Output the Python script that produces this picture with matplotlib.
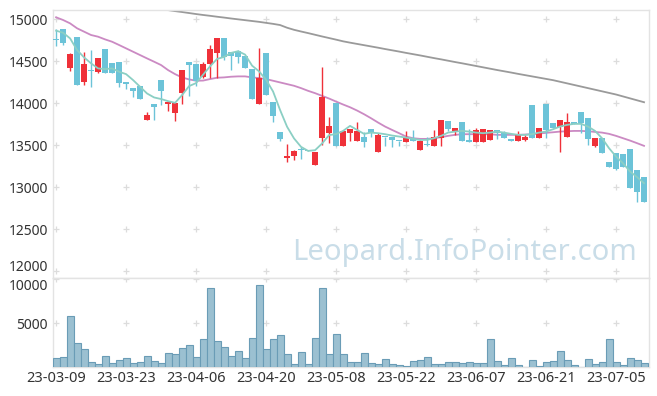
import matplotlib
matplotlib.use("Agg")
import matplotlib.pyplot as plt
import numpy as np

plt.rcParams['font.family'] = ['Noto Sans', 'DejaVu Sans']

# ------------------- Data -------------------
dates = [
    "2023-03-09", "2023-03-10", "2023-03-13", "2023-03-14", "2023-03-15", "2023-03-16", "2023-03-17",
    "2023-03-20", "2023-03-21", "2023-03-22", "2023-03-23", "2023-03-24", "2023-03-27", "2023-03-28",
    "2023-03-29", "2023-03-30", "2023-03-31", "2023-04-03", "2023-04-04", "2023-04-05", "2023-04-06",
    "2023-04-07", "2023-04-10", "2023-04-11", "2023-04-12", "2023-04-13", "2023-04-14", "2023-04-17",
    "2023-04-18", "2023-04-19", "2023-04-20", "2023-04-21", "2023-04-24", "2023-04-25", "2023-04-26",
    "2023-04-27", "2023-04-28", "2023-05-02", "2023-05-03", "2023-05-04", "2023-05-08", "2023-05-09",
    "2023-05-10", "2023-05-11", "2023-05-12", "2023-05-15", "2023-05-16", "2023-05-17", "2023-05-18",
    "2023-05-19", "2023-05-22", "2023-05-23", "2023-05-24", "2023-05-25", "2023-05-26", "2023-05-30",
    "2023-05-31", "2023-06-01", "2023-06-02", "2023-06-05", "2023-06-07", "2023-06-08", "2023-06-09",
    "2023-06-12", "2023-06-13", "2023-06-14", "2023-06-15", "2023-06-16", "2023-06-19", "2023-06-20",
    "2023-06-21", "2023-06-22", "2023-06-23", "2023-06-26", "2023-06-27", "2023-06-28", "2023-06-29",
    "2023-06-30", "2023-07-03", "2023-07-04", "2023-07-05", "2023-07-06", "2023-07-07", "2023-07-10",
    "2023-07-11",
]

opens = [14760, 14885, 14415, 14785, 14250, 14400, 14375, 14645, 14480, 14490,
         14250, 14185, 14200, 13805, 13990, 14275, 13990, 13885, 14125, 14490,
         14470, 14308, 14468, 14600, 14772, 14608, 14620, 14560, 14408, 13996,
         14600, 14012, 13652, 13348, 13368, 13445, 13440, 13260, 13588, 13648,
         14000, 13496, 13650, 13544, 13603, 13690, 13416, 13600, 13603, 13555,
         13540, 13591, 13444, 13506, 13496, 13591, 13790, 13670, 13778, 13563,
         13532, 13532, 13563, 13682, 13650, 13575, 13555, 13563, 13980, 13591,
         13992, 13762, 13714, 13603, 13774, 13893, 13821, 13496, 13583, 13297,
         13404, 13393, 13456, 13206, 13115]
closes = [14750, 14720, 14585, 14220, 14465, 14385, 14540, 14365, 14365, 14245,
          14230, 14150, 14055, 13860, 13960, 14150, 14010, 14000, 14395, 14460,
          14270, 14472, 14648, 14780, 14552, 14560, 14552, 14416, 14056, 14300,
          14104, 13848, 13572, 13376, 13436, 13440, 13436, 13416, 14072, 13728,
          13488, 13670, 13690, 13670, 13532, 13650, 13623, 13595, 13563, 13550,
          13603, 13544, 13551, 13500, 13603, 13802, 13698, 13706, 13555, 13532,
          13682, 13694, 13682, 13650, 13591, 13544, 13631, 13595, 13591, 13702,
          13682, 13710, 13802, 13774, 13754, 13770, 13579, 13583, 13404, 13234,
          13218, 13234, 12988, 12936, 12817]
highs = [14890, 14885, 14595, 14785, 14615, 14635, 14545, 14645, 14480, 14490,
         14250, 14185, 14200, 13890, 13990, 14275, 14015, 14000, 14400, 14490,
         14470, 14490, 14700, 14780, 14772, 14610, 14640, 14560, 14408, 14660,
         14600, 14012, 13652, 13520, 13440, 13480, 13445, 13420, 14432, 13832,
         14000, 13670, 13690, 13774, 13662, 13690, 13650, 13600, 13603, 13555,
         13670, 13682, 13563, 13595, 13682, 13802, 13790, 13706, 13778, 13690,
         13702, 13694, 13682, 13682, 13670, 13575, 13674, 13623, 13980, 13702,
         13992, 13762, 13802, 13881, 13774, 13893, 13821, 13583, 13583, 13297,
         13404, 13393, 13456, 13206, 13115]
lows = [14680, 14700, 14390, 14220, 14220, 14190, 14365, 14365, 14365, 14190,
        14170, 14075, 14050, 13805, 13805, 13975, 13910, 13790, 13990, 14090,
        14210, 14300, 14300, 14300, 14520, 14400, 14480, 14416, 14056, 13996,
        14104, 13772, 13552, 13300, 13320, 13340, 13435, 13260, 13500, 13528,
        13488, 13496, 13544, 13544, 13476, 13603, 13416, 13496, 13476, 13496,
        13540, 13544, 13444, 13496, 13496, 13496, 13674, 13623, 13555, 13532,
        13532, 13532, 13563, 13571, 13591, 13544, 13555, 13544, 13591, 13591,
        13591, 13710, 13416, 13603, 13754, 13643, 13504, 13476, 13404, 13234,
        13206, 13234, 12988, 12817, 12817]
volumes = [1000, 1117, 5852, 2734, 2040, 539, 308, 1232, 423, 770,
           1000, 423, 539, 1232, 654, 423, 1578, 1463, 2156, 2502,
           1117, 3195, 8970, 2964, 2271, 1232, 1809, 1000, 3311, 9317,
           2040, 3195, 3657, 1463, 308, 1694, 308, 3311, 8970, 1463,
           3773, 1463, 539, 539, 1578, 423, 308, 885, 308, 193,
           77, 654, 770, 1117, 308, 308, 539, 539, 423, 539,
           423, 423, 3195, 654, 193, 1000, 193, 20, 770, 77,
           539, 654, 1809, 770, 193, 0, 885, 308, 539, 3195,
           539, 193, 1000, 770, 423]
ma5 = [14865, 14840, 14773, 14634, 14546, 14475, 14415, 14407, 14415, 14375,
       14347, 14276, 14196, 14116, 14069, 14050, 14025, 14005, 14097, 14204,
       14240, 14340, 14440, 14528, 14552, 14600, 14620, 14580, 14448, 14380,
       14280, 14140, 13920, 13720, 13580, 13480, 13432, 13440, 13520, 13620,
       13632, 13670, 13730, 13682, 13635, 13650, 13643, 13631, 13615, 13603,
       13591, 13575, 13563, 13563, 13583, 13611, 13650, 13662, 13670, 13662,
       13650, 13643, 13650, 13662, 13650, 13635, 13623, 13623, 13631, 13650,
       13662, 13690, 13722, 13742, 13754, 13754, 13722, 13670, 13583, 13464,
       13365, 13285, 13186, 13119, 13047]
ma20 = [15024, 14992, 14952, 14893, 14853, 14813, 14793, 14761, 14733, 14694,
        14654, 14614, 14574, 14534, 14495, 14455, 14395, 14347, 14307, 14284,
        14268, 14270, 14288, 14304, 14308, 14316, 14320, 14320, 14308, 14300,
        14288, 14268, 14248, 14228, 14208, 14180, 14148, 14120, 14088, 14056,
        14020, 13985, 13952, 13913, 13869, 13821, 13770, 13722, 13682, 13643,
        13603, 13583, 13575, 13575, 13583, 13595, 13611, 13623, 13631, 13631,
        13631, 13631, 13631, 13623, 13623, 13623, 13623, 13627, 13631, 13639,
        13647, 13654, 13662, 13666, 13670, 13670, 13666, 13658, 13650, 13635,
        13611, 13583, 13555, 13524, 13492]
ma120 = [15300, 15290, 15278, 15266, 15254, 15242, 15230, 15218, 15206, 15194,
         15182, 15170, 15158, 15146, 15134, 15122, 15110, 15098, 15087, 15075,
         15063, 15052, 15042, 15031, 15021, 15010, 15000, 14990, 14980, 14970,
         14958, 14946, 14932, 14900, 14875, 14855, 14836, 14816, 14796, 14777,
         14758, 14738, 14722, 14707, 14692, 14677, 14662, 14646, 14631, 14616,
         14600, 14585, 14570, 14554, 14538, 14523, 14507, 14491, 14476, 14460,
         14444, 14428, 14412, 14396, 14381, 14366, 14350, 14335, 14320, 14305,
         14290, 14275, 14256, 14237, 14218, 14199, 14180, 14161, 14142, 14123,
         14104, 14081, 14058, 14035, 14012]

price_ticks = [12000, 12500, 13000, 13500, 14000, 14500, 15000]
volume_ticks = [5000, 10000]
tick_every = 10

# ------------------- Colours -------------------
up_color = '#ef3139'
down_color = '#6cc3d8'
grid_color = '#dcdcdc'
spine_color = '#e3e3e3'
text_color = '#333333'

# ------------------- Figure -------------------
fig = plt.figure(figsize=(6.57, 3.96), dpi=100)
ax = fig.add_axes([0.0811, 0.298, 0.9063, 0.6767])
axv = fig.add_axes([0.0811, 0.0732, 0.9063, 0.2248], sharex=ax)

x = np.arange(len(dates))
o = np.array(opens); c = np.array(closes)
h = np.array(highs); l = np.array(lows)
up = c >= o
colors = np.where(up, up_color, down_color)

# candles
ax.vlines(x, l, h, colors=colors, linewidth=1.0, zorder=3)
body_bottom = np.minimum(o, c)
body_height = np.maximum(np.abs(c - o), 10)
ax.bar(x, body_height, bottom=body_bottom, width=0.75, color=colors, linewidth=0, zorder=4)

# moving averages
ax.plot(x, ma5, color='#8bcfc4', lw=1.3, zorder=5)
ax.plot(x, ma20, color='#cb8ac3', lw=1.3, zorder=2)
ax.plot(x, ma120, color='#9a9a9a', lw=1.3, zorder=2)

# volume
axv.bar(x, volumes, width=1.0, color='#9bc0d1', edgecolor='#6a9cb6', linewidth=0.8, zorder=3)

# axes styling
ax.set_xlim(-0.4, 84.67)
ax.set_ylim(11917, 15111)
axv.set_ylim(0, 10150)

xticks = list(range(0, len(dates), tick_every))
for a, yt in ((ax, price_ticks), (axv, volume_ticks)):
    for s in a.spines.values():
        s.set_color(spine_color)
        s.set_linewidth(1.0)
    a.set_yticks(yt)
    a.tick_params(axis='both', length=0, labelsize=10, labelcolor=text_color, pad=4)
    gx, gy = np.meshgrid(xticks, yt)
    a.plot(gx.ravel(), gy.ravel(), linestyle='none', marker='+', ms=5, mew=0.9,
           color=grid_color, zorder=1)

# keep the bottom price label and top volume label from colliding
ax.get_yticklabels()[0].set_va('baseline')
axv.get_yticklabels()[-1].set_va('top')

ax.tick_params(axis='x', labelbottom=False)
axv.set_xticks(xticks)
axv.set_xticklabels([dates[i][2:] for i in xticks])
axv.tick_params(axis='x', pad=3, labelsize=10.5)

# watermark
fig.text(0.9695, 0.3636, "Leopard.InfoPointer.com", ha='right', va='center',
         fontsize=21, color='#c9dde8', zorder=0)

fig.savefig("out.png", dpi=100)
